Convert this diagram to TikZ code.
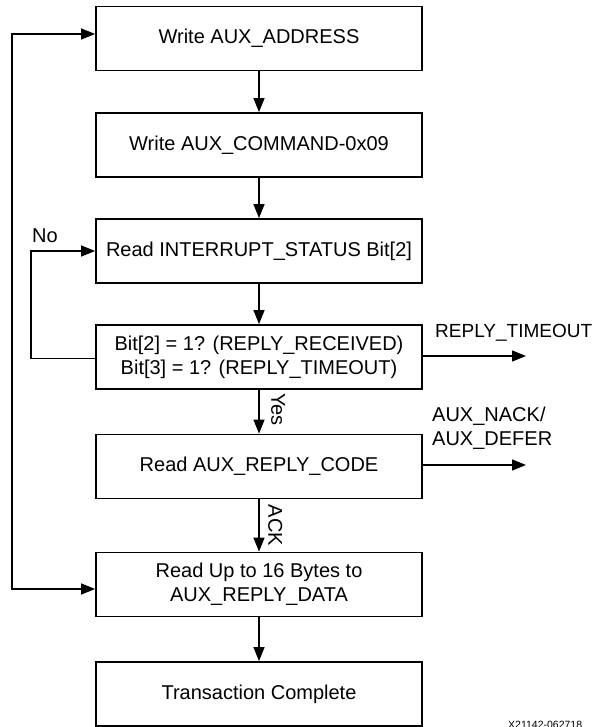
\documentclass[tikz,border=0pt]{standalone}
\usepackage{fontspec}
\setmainfont{Liberation Sans}
\usetikzlibrary{arrows.meta}
\begin{document}
\begin{tikzpicture}[x=1pt,y=-1pt,
  font=\fontsize{20}{24}\selectfont,
  stepbox/.style={draw,line width=1.8pt,minimum width=326pt,minimum height=64pt,
    align=center,inner sep=0pt},
  flow/.style={line width=1.3pt,-{Triangle[length=14pt,width=11pt]}},
  both/.style={line width=1.3pt,{Triangle[length=14pt,width=11pt]}-{Triangle[length=14pt,width=11pt]}},
  lbl/.style={inner sep=0pt},
  sidelbl/.style={inner sep=0pt,anchor=south,rotate=-90}]
\useasboundingbox (0,0) rectangle (597,727);

% process boxes
\node[stepbox] (b1) at (259,38.5) {Write AUX\_ADDRESS};
\node[stepbox] (b2) at (259,145) {Write AUX\_COMMAND-0x09};
\node[stepbox] (b3) at (259,251) {Read INTERRUPT\_STATUS Bit[2]};
\node[stepbox] (b4) at (259,357) {Bit[2] = 1? (REPLY\_RECEIVED)\\Bit[3] = 1? (REPLY\_TIMEOUT)};
\node[stepbox] (b5) at (259,466.5) {Read AUX\_REPLY\_CODE};
\node[stepbox] (b6) at (259,584.5) {Read Up to 16 Bytes to\\AUX\_REPLY\_DATA};
\node[stepbox] (b7) at (259,694) {Transaction Complete};

% main flow
\draw[flow] (b1) -- (b2);
\draw[flow] (b2) -- (b3);
\draw[flow] (b3) -- (b4);
\draw[flow] (b4) -- coordinate[pos=0.45] (yesat) (b5);
\node[sidelbl] (yes) at ([xshift=12pt]yesat) {Yes};
\draw[flow] (b5) -- coordinate[pos=0.5] (ackat) (b6);
\node[sidelbl] (ack) at ([xshift=9pt]ackat) {ACK};
\draw[flow] (b6) -- (b7);

% polling loop
\draw[flow] ([yshift=-1.5pt]b4.west) -- ++(-64,0) |- (b3.west);
\node[lbl] (no) at (45,236) {No};

% retry loop
\draw[both] ([yshift=4.5pt]b1.west) -- ++(-83,0) |- ([yshift=-4.5pt]b6.west);

% exits
\coordinate (timeout) at (526,356);
\draw[flow] (b4.east |- timeout) -- (timeout);
\node[lbl,anchor=west,font=\fontsize{19}{23}\selectfont] (tol) at (435,333) {REPLY\_TIMEOUT};

\coordinate (nack) at (526,465);
\draw[flow] (b5.east |- nack) -- (nack);
\node[lbl,anchor=north west,align=left] (nackl) at (432,407) {AUX\_NACK/\\AUX\_DEFER};

% figure number
\node[lbl,anchor=base west,font=\fontsize{10.5}{12}\selectfont] (fig) at (508,728) {X21142-062718};
\end{tikzpicture}
\end{document}
